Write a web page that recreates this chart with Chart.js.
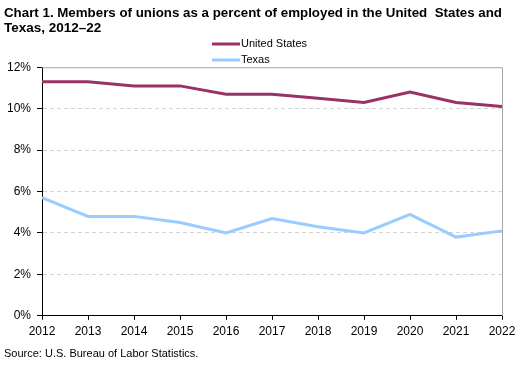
<!DOCTYPE html>
<html>
<head>
<meta charset="utf-8">
<script src="https://cdn.jsdelivr.net/npm/chart.js@4/dist/chart.umd.min.js"></script>
<style>
html, body { margin: 0; padding: 0; background: #fff; }
</style>
</head>
<body>
<canvas id="chart" width="528" height="365"></canvas>
<script>
const years = ['2012', '2013', '2014', '2015', '2016', '2017', '2018', '2019', '2020', '2021', '2022'];
const unitedStates = [11.3, 11.3, 11.1, 11.1, 10.7, 10.7, 10.5, 10.3, 10.8, 10.3, 10.1];
const texas = [5.7, 4.8, 4.8, 4.5, 4.0, 4.7, 4.3, 4.0, 4.9, 3.8, 4.1];
const seriesNames = ['United States', 'Texas'];
const seriesColors = ['#993366', '#99ccff'];

const FONT = 'Arial, "Liberation Sans", sans-serif';

// legend stacked in two rows above the plot, plus the grey top/right frame
const extras = {
	id: 'extras',
	afterDraw(chart) {
		const c = chart.ctx;
		const a = chart.chartArea;
		c.save();
		c.strokeStyle = '#a6a6a6';
		c.lineWidth = 1;
		c.beginPath();
		c.moveTo(a.left, a.top + 0.5);
		c.lineTo(a.right + 0.5, a.top + 0.5);
		c.lineTo(a.right + 0.5, a.bottom);
		c.stroke();

		c.font = '11px ' + FONT;
		c.textBaseline = 'middle';
		c.fillStyle = '#000';
		seriesNames.forEach((name, i) => {
			const y = 44 + i * 16;
			c.strokeStyle = seriesColors[i];
			c.lineWidth = 3;
			c.beginPath();
			c.moveTo(212, y);
			c.lineTo(240, y);
			c.stroke();
			c.fillText(name, 241, y);
		});
		c.restore();
	}
};

new Chart(document.getElementById('chart'), {
	type: 'line',
	data: {
		labels: years,
		datasets: [{
			label: seriesNames[0],
			data: unitedStates,
			borderColor: seriesColors[0],
			borderWidth: 3,
			pointRadius: 0,
			tension: 0
		}, {
			label: seriesNames[1],
			data: texas,
			borderColor: seriesColors[1],
			borderWidth: 3,
			pointRadius: 0,
			tension: 0
		}]
	},
	options: {
		responsive: false,
		animation: false,
		layout: { padding: { left: 4, right: 26, top: 0, bottom: 0 } },
		plugins: {
			legend: { display: false },
			tooltip: { enabled: false },
			title: {
				display: true,
				align: 'start',
				text: ['Chart 1. Members of unions as a percent of employed in the United  States and', 'Texas, 2012\u201322'],
				color: '#000',
				font: { family: FONT, size: 13.5, weight: 'bold', lineHeight: 1.12 },
				padding: { top: 6, bottom: 31 }
			},
			subtitle: {
				display: true,
				position: 'bottom',
				align: 'start',
				text: 'Source: U.S. Bureau of Labor Statistics.',
				color: '#000',
				font: { family: FONT, size: 11 },
				padding: { top: 8, bottom: 4 }
			}
		},
		scales: {
			x: {
				offset: false,
				afterFit(scale) { scale.height = 24; },
				grid: { drawOnChartArea: false, drawTicks: true, tickLength: 4, tickColor: '#000' },
				border: { color: '#000', width: 1 },
				ticks: { color: '#000', font: { family: FONT, size: 12 }, padding: 5, maxRotation: 0, autoSkip: false }
			},
			y: {
				min: 0,
				max: 12,
				afterFit(scale) { scale.width = 38; },
				grid: {
					color: ctx => (ctx.tick.value === 0 || ctx.tick.value === 12) ? 'rgba(0,0,0,0)' : '#d4d4d4',
					tickColor: '#000',
					tickLength: 5,
					tickBorderDash: []
				},
				border: { color: '#000', width: 1, dash: [4, 3] },
				ticks: {
					stepSize: 2,
					color: '#000',
					font: { family: FONT, size: 12 },
					padding: 6,
					callback: v => v + '%'
				}
			}
		}
	},
	plugins: [extras]
});
</script>
</body>
</html>
